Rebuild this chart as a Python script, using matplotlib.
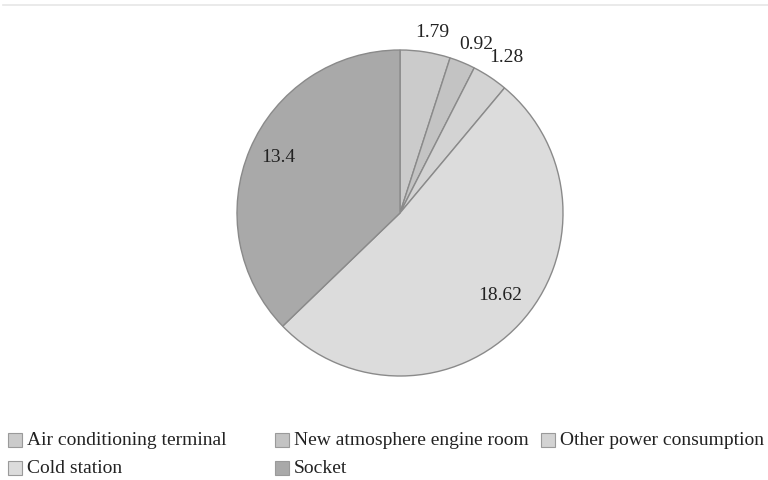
import numpy as np
import matplotlib.pyplot as plt
from matplotlib.patches import Rectangle

categories = ["Air conditioning terminal", "New atmosphere engine room",
              "Other power consumption", "Cold station", "Socket"]
values = [1.79, 0.92, 1.28, 18.62, 13.4]
value_labels = ["1.79", "0.92", "1.28", "18.62", "13.4"]
colors = ["#cbcbcb", "#c3c3c3", "#d3d3d3", "#dcdcdc", "#a9a9a9"]

plt.rcParams['font.family'] = ['Liberation Serif', 'DejaVu Serif']

W, H = 768, 481
fig = plt.figure(figsize=(W / 100, H / 100), dpi=100)

# top faint rule
fig.add_artist(plt.Line2D([3 / W, 1], [1 - 6 / H, 1 - 6 / H], color="#e6e6e6", lw=1.2))

cx, cy, r = 400, 214, 163
ax = fig.add_axes([(cx - r) / W, 1 - (cy + r) / H, 2 * r / W, 2 * r / H])
wedges, _ = ax.pie(values, colors=colors, startangle=90, counterclock=False,
                   wedgeprops=dict(edgecolor="#8a8a8a", linewidth=1.0))
ax.set_xlim(-1, 1)
ax.set_ylim(-1, 1)
ax.set_aspect('equal')

# label placement (radius fraction, angular offset in degrees)
label_r = [1.128, 1.137, 1.16, 0.79, 0.826]
label_da = [-1.1, -1.7, -0.9, 3.9, -2.0]
total = sum(values)
cum = 0
for i, v in enumerate(values):
    mid = cum + v / 2
    cum += v
    a = np.deg2rad(90 - 360 * mid / total + label_da[i])
    ax.text(label_r[i] * np.cos(a), label_r[i] * np.sin(a), value_labels[i],
            ha='center', va='center', fontsize=14, color="#222222")

# legend drawn manually (row-major, three columns)
marker_x = [8, 275, 541, 8, 275]
row_y = [441, 441, 441, 469, 469]
sz = 14
for i, name in enumerate(categories):
    x0, y0 = marker_x[i], row_y[i]
    fig.add_artist(Rectangle((x0 / W, 1 - (y0 + sz / 2) / H), sz / W, sz / H,
                             transform=fig.transFigure, facecolor=colors[i],
                             edgecolor="#9a9a9a", linewidth=0.8))
    fig.text((x0 + sz + 5) / W, 1 - y0 / H, name, ha='left', va='center',
             fontsize=14, color="#222222")

fig.savefig("out.png", dpi=100)
